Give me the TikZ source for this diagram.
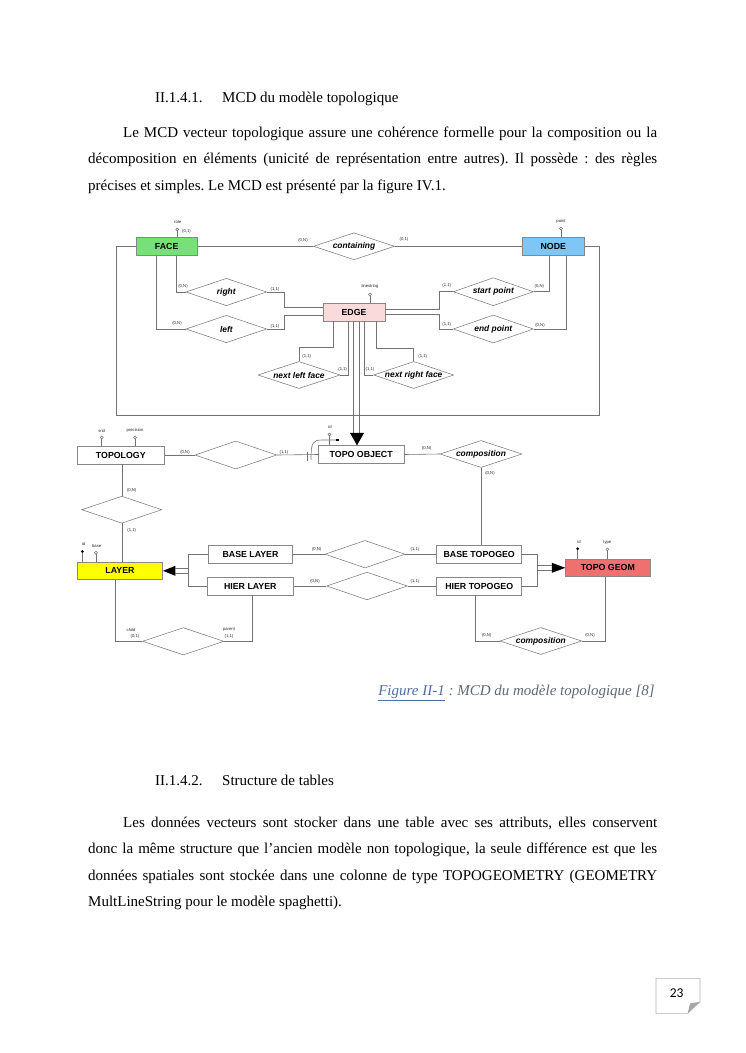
\documentclass[tikz,border=0pt]{standalone}
\usepackage{fontspec}
\setmainfont{Liberation Serif}
\newfontfamily\arialf{Liberation Sans}
\newfontfamily\calf{Carlito}
\usetikzlibrary{shapes.geometric}
\definecolor{facec}{RGB}{120,224,120}
\definecolor{nodec}{RGB}{125,198,245}
\definecolor{edgec}{RGB}{250,218,218}
\definecolor{layerc}{RGB}{255,255,0}
\definecolor{geomc}{RGB}{240,112,112}
\definecolor{linec}{RGB}{115,115,115}
\definecolor{entb}{RGB}{135,135,135}
\definecolor{capblue}{RGB}{80,110,160}
\definecolor{capgray}{RGB}{95,105,120}
\newcommand\entfont{\arialf\bfseries\fontsize{8.8}{10}\selectfont}
\newcommand\relfont{\arialf\bfseries\itshape\fontsize{8.4}{10}\selectfont}
\newcommand\cardfont{\arialf\fontsize{4.2}{5}\selectfont}
\newcommand\bodyfont{\fontsize{15}{18}\selectfont}
\frenchspacing
\begin{document}
\begin{tikzpicture}[x=1pt,y=-1pt,
  ent/.style={draw=entb, line width=0.6pt, inner sep=0pt, font=\entfont},
  rel/.style={diamond, draw=linec, line width=0.5pt, inner sep=0pt, fill=white},
  rellab/.style={font=\relfont, inner sep=0pt},
  card/.style={font=\cardfont, inner sep=0pt, text=black!85},
  conn/.style={draw=linec, line width=0.6pt},
  attro/.style={circle, draw=linec, fill=white, line width=0.45pt, inner sep=0pt, minimum size=3pt},
  attrf/.style={circle, fill=black, inner sep=0pt, minimum size=3pt},
  body/.style={font=\bodyfont, inner sep=0pt, anchor=base west}]
\useasboundingbox (0,0) rectangle (745,1053);
\fill[white] (0,0) rectangle (745,1053);

% ---------- text ----------
\node[body] (h1n) at (155,102.5) {II.1.4.1.};
\node[body] (h1t) at (222,102.5) {MCD du modèle topologique};
\node[body] (p1a) at (123,137) {\makebox[534pt][s]{Le MCD vecteur topologique assure une cohérence formelle pour la composition ou la}};
\node[body] (p1b) at (88,163.5) {\makebox[569pt][s]{décomposition en éléments (unicité de représentation entre autres). Il possède : des règles}};
\node[body] (p1c) at (88,190) {précises et simples. Le MCD est présenté par la figure IV.1.};

\node[font=\bodyfont\itshape, inner sep=0pt, anchor=base east] (cap) at (655,695.5) {\textcolor{capblue}{\underline{Figure II-1}}\textcolor{capgray}{\ :\ MCD du modèle topologique [8]}};

\node[body] (h2n) at (155,785.5) {II.1.4.2.};
\node[body] (h2t) at (222,785.5) {Structure de tables};
\node[body] (p2a) at (123,827.5) {\makebox[534pt][s]{Les données vecteurs sont stocker dans une table avec ses attributs, elles conservent}};
\node[body] (p2b) at (88,853.5) {\makebox[569pt][s]{donc la même structure que l’ancien modèle non topologique, la seule différence est que les}};
\node[body] (p2c) at (88,880.5) {\makebox[569pt][s]{données spatiales sont stockée dans une colonne de type TOPOGEOMETRY (GEOMETRY}};
\node[body] (p2d) at (88,906.5) {MultLineString pour le modèle spaghetti).};

% ---------- entities ----------
\node[ent, fill=facec, minimum width=61.5pt, minimum height=18pt] (face) at (166.7,246.3) {FACE};
\node[ent, fill=nodec, minimum width=62pt, minimum height=18pt] (nodeE) at (553.3,246.3) {NODE};
\node[ent, fill=edgec, minimum width=62pt, minimum height=18pt] (edgeE) at (354,312) {EDGE};
\node[ent, fill=white, minimum width=87pt, minimum height=17.7pt] (topology) at (120.8,455) {TOPOLOGY};
\node[ent, fill=white, minimum width=85.7pt, minimum height=17.6pt] (topoobj) at (361.2,454.5) {TOPO OBJECT};
\node[ent, fill=layerc, minimum width=85.4pt, minimum height=17pt] (layer) at (120,570.8) {LAYER};
\node[ent, fill=white, minimum width=84.4pt, minimum height=18.3pt] (baselayer) at (250.5,554.2) {BASE LAYER};
\node[ent, fill=white, minimum width=86pt, minimum height=17.6pt] (hierlayer) at (250.3,586) {HIER LAYER};
\node[ent, fill=white, minimum width=85pt, minimum height=18.3pt] (basetg) at (479.2,554.2) {BASE TOPOGEO};
\node[ent, fill=white, minimum width=85pt, minimum height=18.3pt] (hiertg) at (479.2,586) {HIER TOPOGEO};
\node[ent, fill=geomc, minimum width=84.3pt, minimum height=17.7pt] (topogeom) at (607.8,567.8) {TOPO GEOM};

% ---------- relationships ----------
\node[rel, minimum width=81pt, minimum height=27pt] (contain) at (354,246.3) {};
\node[rellab] (contain-t) at (contain) {containing};
\node[rel, minimum width=80.7pt, minimum height=27.4pt] (rightR) at (226.3,292) {};
\node[rellab] (rightR-t) at (rightR) {right};
\node[rel, minimum width=80.7pt, minimum height=27.4pt] (leftR) at (226.3,329) {};
\node[rellab] (leftR-t) at (leftR) {left};
\node[rel, minimum width=80pt, minimum height=28pt] (startpt) at (493.3,291.7) {};
\node[rellab] (startpt-t) at (startpt) {start point};
\node[rel, minimum width=80pt, minimum height=28pt] (endpt) at (493.3,329) {};
\node[rellab] (endpt-t) at (endpt) {end point};
\node[rel, minimum width=82pt, minimum height=27pt] (nlf) at (299,375) {};
\node[rellab] (nlf-t) at (nlf) {next left face};
\node[rel, minimum width=80pt, minimum height=27pt] (nrf) at (413.7,375) {};
\node[rellab] (nrf-t) at (nrf) {next right face};
\node[rel, minimum width=81.7pt, minimum height=28pt] (toporel) at (235.8,455) {};
\node[rel, minimum width=80pt, minimum height=27pt] (toplay) at (121.8,509.7) {};
\node[rel, minimum width=82pt, minimum height=27pt] (comptop) at (481,454) {};
\node[rellab] (comptop-t) at (comptop) {composition};
\node[rel, minimum width=80pt, minimum height=27.5pt] (baserel) at (365,554.2) {};
\node[rel, minimum width=80.7pt, minimum height=27.7pt] (hierrel) at (367,586) {};
\node[rel, minimum width=81.7pt, minimum height=27pt] (compbot) at (540.8,641) {};
\node[rellab] (compbot-t) at (compbot) {composition};
\node[rel, minimum width=81.3pt, minimum height=27.3pt] (parentrel) at (183.3,641.3) {};

% ---------- attributes ----------
\node[attro] (a-role) at (177.3,229.5) {};
\node[card] (a-role-t) at (177.7,222) {role};
\node[card] (a-role-c) at (186.5,231.5) {(0,1)};
\node[attro] (a-point) at (561,228.5) {};
\node[card] (a-point-t) at (561,221) {point};
\node[attro] (a-ls) at (370,294.5) {};
\node[card] (a-ls-t) at (370,286.5) {linestring};
\node[attro] (a-oid) at (329.5,434.5) {};
\node[card] (a-oid-t) at (330,427) {id};
\node[attro] (a-srid) at (101.7,437.5) {};
\node[card] (a-srid-t) at (101.7,430.5) {srid};
\node[attro] (a-prec) at (135,437.5) {};
\node[card] (a-prec-t) at (135,430.5) {precision};
\node[attrf] (a-lid) at (82.3,551.5) {};
\node[card] (a-lid-t) at (83.5,544) {id};
\node[attro] (a-base) at (96,552.7) {};
\node[card] (a-base-t) at (96.7,545.5) {base};
\node[attrf] (a-gid) at (577.7,548.7) {};
\node[card] (a-gid-t) at (579,542) {id};
\node[attro] (a-type) at (607.3,549.3) {};
\node[card] (a-type-t) at (607.3,542.7) {type};

\draw[conn] (a-role) -- (a-role |- face.north);
\draw[conn] (a-point) -- (a-point |- nodeE.north);
\draw[conn] (a-ls) -- (a-ls |- edgeE.north);
\draw[conn] (a-oid) -- (a-oid |- topoobj.north);
\draw[conn] (a-srid) -- (a-srid |- topology.north);
\draw[conn] (a-prec) -- (a-prec |- topology.north);
\draw[conn] (a-lid) -- (a-lid |- layer.north);
\draw[conn] (a-base) -- (a-base |- layer.north);
\draw[conn] (a-gid) -- (a-gid |- topogeom.north);
\draw[conn] (a-type) -- (a-type |- topogeom.north);

% ---------- connectors ----------
\coordinate (obl) at (116.7,415.5);
\coordinate (obr) at (599,415.5);
\draw[conn] (face.east) -- (contain.west);
\draw[conn] (contain.east) -- (nodeE.west);
\draw[conn] (face.west) -| (obl) -- (obr) |- (nodeE.east);

\draw[conn] ([xshift=9.3pt]face.south) |- (rightR.west);
\draw[conn] ([xshift=-10pt]face.south) |- (leftR.west);
\draw[conn] (rightR.east) -- ++(17.6,0) |- ([yshift=4.3pt]edgeE.west);
\draw[conn] (leftR.east) -- ++(17.6,0) |- ([yshift=-3.7pt]edgeE.west);
\draw[conn] ([yshift=3pt]edgeE.east) -- ++(54,0) |- (startpt.west);
\draw[conn] ([yshift=-2.3pt]edgeE.east) -- ++(54,0) |- (endpt.west);
\draw[conn] (startpt.east) -| ([xshift=-4.3pt]nodeE.south);
\draw[conn] (endpt.east) -| ([xshift=13.4pt]nodeE.south);

\draw[conn] (nlf.north) -- ++(0,-14.4) -| ([xshift=-20.7pt]edgeE.south);
\draw[conn] (nlf.east) -| ([xshift=-5.7pt]edgeE.south);
\draw[conn] (nrf.west) -| ([xshift=10.3pt]edgeE.south);
\draw[conn] (nrf.north) -- ++(0,-13.4) -| ([xshift=22.7pt]edgeE.south);

% inheritance EDGE -> TOPO OBJECT
\coordinate (inhA) at ([xshift=-4.2pt]topoobj.north);
\draw[conn] ([xshift=-0.5pt]edgeE.south) -- ++(0,112.2);
\draw[conn] ([xshift=5.3pt]edgeE.south) -- ++(0,112.2);
\fill[black] (inhA) -- ++(-7,-12.5) -- ++(14,0) -- cycle;

% topology
\draw[conn] (topology.east) -- (toporel.west);
\draw[conn] (toporel.east) -- (topoobj.west);
\draw[conn] ([xshift=1pt]topology.south) -- ([xshift=1pt]topology.south |- toplay.north);
\draw[conn] (toplay.south) -- (toplay.south |- layer.north);

% identifier mark near TOPO OBJECT
\coordinate (idm) at (337.7,440);
\draw[conn] (306.8,451.5) -- (306.8,460.5);
\draw[conn] (311,459.5) .. controls (311,442) and (313,440) .. (322,440) -- (idm);
\fill[black] ([xshift=-1.3pt,yshift=-1.3pt]idm) rectangle ([xshift=1.3pt,yshift=1.3pt]idm);

% composition (top)
\draw[conn] (topoobj.east) -- (comptop.west);
\draw[conn] (comptop.south) -- (comptop.south |- basetg.north);

% layer inheritance
\fill[black] (layer.east) -- ++(12.3,-5) -- ++(0,10) -- cycle;
\draw[conn] ([xshift=12.3pt,yshift=2.5pt]layer.east) -- ++(13.3,0);
\draw[conn] ([xshift=12.3pt,yshift=-2.5pt]layer.east) -- ++(13.3,0);
\draw[conn] (baselayer.west) -- ++(-20,0) |- (hierlayer.west);

\draw[conn] (baselayer.east) -- (baserel.west);
\draw[conn] (baserel.east) -- (basetg.west);
\draw[conn] (hierlayer.east) -- (hierrel.west);
\draw[conn] (hierrel.east) -- (hiertg.west);

% topo geom inheritance
\draw[conn] (basetg.east) -- ++(15.6,0) |- (hiertg.east);
\fill[black] (topogeom.west) -- ++(-13.5,-5) -- ++(0,10) -- cycle;
\draw[conn] ([xshift=-13.5pt,yshift=2.3pt]topogeom.west) -- ++(-14.9,0);
\draw[conn] ([xshift=-13.5pt,yshift=-2.3pt]topogeom.west) -- ++(-14.9,0);

% bottom relations
\draw[conn] ([xshift=-4.2pt]hiertg.south) |- (compbot.west);
\draw[conn] (compbot.east) -| ([xshift=-2.8pt]topogeom.south);
\draw[conn] ([xshift=-5pt]layer.south) |- (parentrel.west);
\draw[conn] (parentrel.east) -| ([xshift=2pt]hierlayer.south);

% ---------- cardinalities ----------
\node[card] (c1) at (303,240) {(0,N)};
\node[card] (c2) at (404,239.5) {(0,1)};
\node[card] (c3) at (183,286.5) {(0,N)};
\node[card] (c4) at (275,289) {(1,1)};
\node[card] (c5) at (177,323) {(0,N)};
\node[card] (c6) at (275,326) {(1,1)};
\node[card] (c7) at (446.7,285) {(1,1)};
\node[card] (c8) at (539.3,286.5) {(0,N)};
\node[card] (c9) at (446.7,324.5) {(1,1)};
\node[card] (c10) at (540,325) {(0,N)};
\node[card] (c11) at (306.7,356.7) {(1,1)};
\node[card] (c12) at (342.7,369.3) {(1,1)};
\node[card] (c13) at (370,369.3) {(1,1)};
\node[card] (c14) at (422.7,356) {(1,1)};
\node[card] (c15) at (185,452) {(0,N)};
\node[card] (c16) at (284,452) {(1,1)};
\node[card] (c17) at (426.7,448.5) {(0,N)};
\node[card] (c18) at (490,473.5) {(0,N)};
\node[card] (c19) at (131.7,490) {(0,N)};
\node[card] (c20) at (131.7,530.7) {(1,1)};
\node[card] (c21) at (316.7,549) {(0,N)};
\node[card] (c22) at (415,549) {(1,1)};
\node[card] (c23) at (315,581) {(0,N)};
\node[card] (c24) at (415,581) {(1,1)};
\node[card] (c25) at (486.7,635) {(0,N)};
\node[card] (c26) at (590,635) {(0,N)};
\node[card] (c27) at (131,630) {child};
\node[card] (c28) at (135,636) {(0,1)};
\node[card] (c29) at (229,630) {parent};
\node[card] (c30) at (229,636) {(1,1)};

% ---------- page number ----------
\draw[draw=black!30, line width=0.6pt, fill=white] (656,978.3) -- (700,978.3) -- (700,1001.7) -- (687.7,1013.3) -- (656,1013.3) -- cycle;
\fill[black!35] (700,1001.7) -- (687.7,1013.3) -- (690,1003.5) -- cycle;
\node[font=\calf\fontsize{13.5}{15}\selectfont, inner sep=0pt] (pg) at (676.7,993) {23};
\end{tikzpicture}
\end{document}
